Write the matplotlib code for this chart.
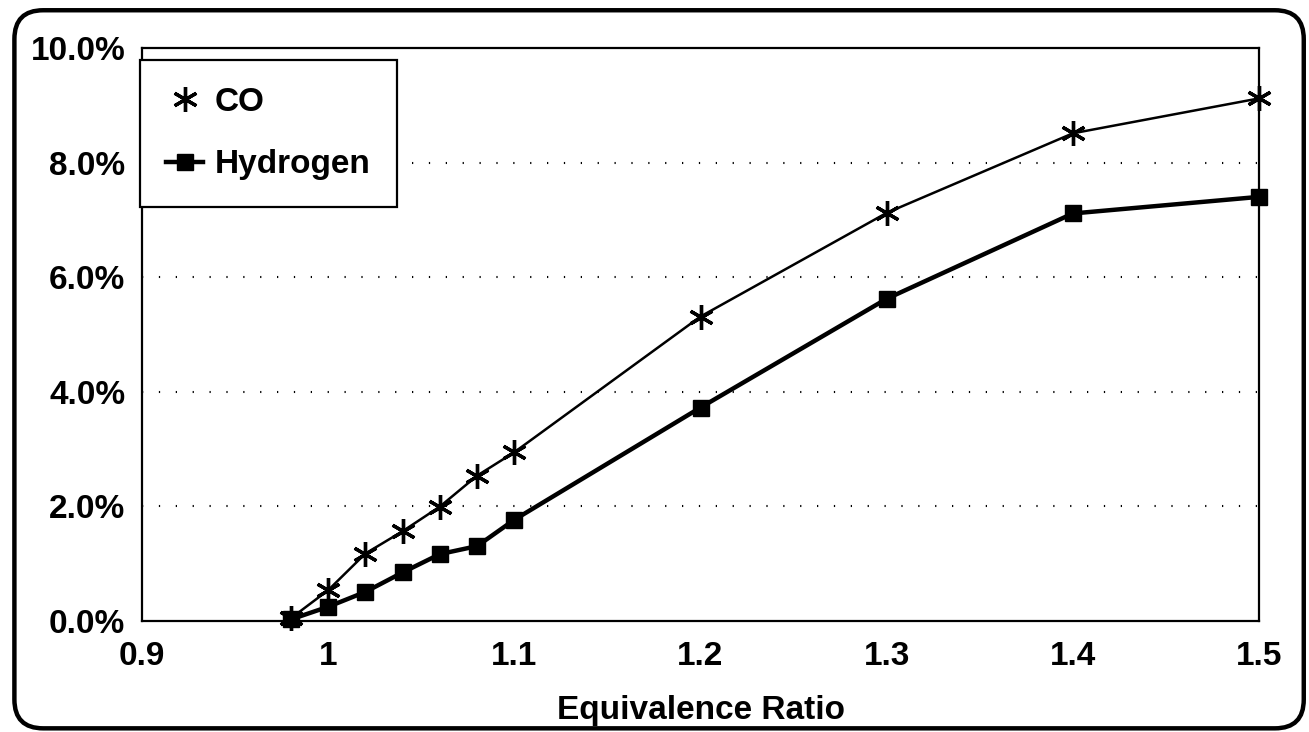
import matplotlib.pyplot as plt
from matplotlib.patches import FancyBboxPatch
from matplotlib.lines import Line2D
from matplotlib.ticker import FuncFormatter

plt.rcParams['font.family'] = ['Liberation Sans', 'DejaVu Sans']
plt.rcParams['font.weight'] = 'bold'

# equivalence ratio
phi = [0.98, 1.00, 1.02, 1.04, 1.06, 1.08, 1.10, 1.20, 1.30, 1.40, 1.50]
# mole fractions (%)
co = [0.04, 0.53, 1.17, 1.56, 1.99, 2.53, 2.94, 5.31, 7.12, 8.51, 9.12]
hydrogen = [0.02, 0.24, 0.50, 0.84, 1.16, 1.30, 1.76, 3.72, 5.62, 7.11, 7.40]

x_ticks = [0.9, 1.0, 1.1, 1.2, 1.3, 1.4, 1.5]
x_tick_labels = ['0.9', '1', '1.1', '1.2', '1.3', '1.4', '1.5']
y_ticks = [0, 2, 4, 6, 8, 10]

fig = plt.figure(figsize=(13.09, 7.32), dpi=100)
ax = fig.add_axes([0.1085, 0.1523, 0.8533, 0.7821])

# rounded frame around the whole chart
frame = FancyBboxPatch((0.011, 0.005), 0.985, 0.981,
                       boxstyle="round,pad=0,rounding_size=0.022",
                       transform=fig.transFigure, fill=False,
                       edgecolor='black', linewidth=3.2, mutation_aspect=1309 / 732)
fig.patches.append(frame)

asterisk = (6, 2, 0)
ax.plot(phi, co, color='black', linewidth=1.8, marker=asterisk,
        markersize=18, markeredgewidth=2.4, zorder=3, clip_on=False)
ax.plot(phi, hydrogen, color='black', linewidth=3.2, marker='s',
        markersize=12, zorder=3, clip_on=False)

for y in y_ticks[1:-1]:
    ax.axhline(y, color='black', linewidth=1.5, linestyle=(0, (0.6, 7.5)), zorder=1)

ax.set_xlim(0.9, 1.5)
ax.set_ylim(0, 10)
ax.set_xticks(x_ticks)
ax.set_xticklabels(x_tick_labels)
ax.set_yticks(y_ticks)
ax.yaxis.set_major_formatter(FuncFormatter(lambda v, p: f'{v:.1f}%'))
ax.tick_params(length=0, labelsize=24, pad=12)
ax.tick_params(axis='x', pad=15)
for s in ax.spines.values():
    s.set_linewidth(1.6)

ax.set_xlabel('Equivalence Ratio', fontsize=24, fontweight='bold', labelpad=16)

handles = [
    Line2D([], [], color='black', linestyle='none', marker=asterisk,
           markersize=18, markeredgewidth=2.4),
    Line2D([], [], color='black', linewidth=3.2, marker='s', markersize=12),
]
leg = ax.legend(handles, ['CO', 'Hydrogen'], loc='upper left',
                bbox_to_anchor=(-0.002, 0.979), borderaxespad=0,
                fontsize=24, frameon=True, fancybox=False, handlelength=1.1,
                handletextpad=0.35, borderpad=0.8, labelspacing=0.95)
leg.get_frame().set_edgecolor('black')
leg.get_frame().set_linewidth(1.6)
leg.get_frame().set_alpha(1)

fig.savefig('out.png', dpi=100)
